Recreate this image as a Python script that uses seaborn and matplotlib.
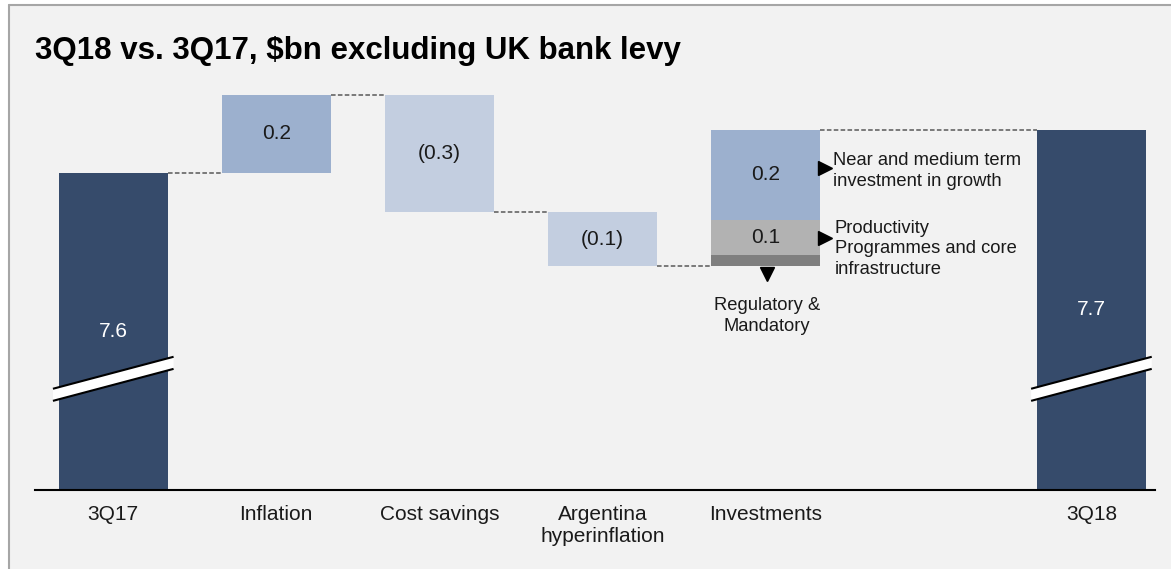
import matplotlib
matplotlib.use("Agg")
import matplotlib.pyplot as plt
import seaborn as sns
import pandas as pd
import numpy as np
from matplotlib.patches import Rectangle, Polygon
from matplotlib.lines import Line2D

# ---------------- data ----------------
categories = ["3Q17", "Inflation", "Cost savings", "Argentina\nhyperinflation",
              "Investments", "", "3Q18"]
start_value = 7.6
end_value = 7.71
step_values = [0.20, -0.30, -0.14]          # Inflation, Cost savings, Argentina
step_labels = ["0.2", "(0.3)", "(0.1)"]
investment_parts = [0.03, 0.09, 0.23]       # Regulatory, Productivity, Growth
investment_labels = ["", "0.1", "0.2"]
investment_notes = ["Regulatory &\nMandatory",
                    "Productivity\nProgrammes and core\ninfrastructure",
                    "Near and medium term\ninvestment in growth"]
total_labels = ["7.6", "7.7"]
title = "3Q18 vs. 3Q17, $bn excluding UK bank levy"

# ---------------- style ----------------
bg = "#F2F2F2"
navy = "#364B6B"
mid_blue = "#9CB0CE"
light_blue = "#C3CEE0"
gray_light = "#B2B2B2"
gray_dark = "#7F7F7F"
step_colors = [mid_blue, light_blue, light_blue]
inv_colors = [gray_dark, gray_light, mid_blue]
bar_w = 0.67
txt = "#1a1a1a"
W, H = 1171, 569

sns.set_theme(style="white")
plt.rcParams["font.family"] = ["Liberation Sans", "DejaVu Sans"]

fig = plt.figure(figsize=(W / 100, H / 100), dpi=100, facecolor="white")

# panel background with left/top frame lines
fx0, fy1 = 9 / W, 1 - 4.5 / H
fig.add_artist(Rectangle((fx0, 0), 1 - fx0, fy1, transform=fig.transFigure,
                         facecolor=bg, edgecolor="none", zorder=-10))
fig.add_artist(Line2D([fx0, fx0], [0, fy1], transform=fig.transFigure,
                      color="#A6A6A6", lw=1.5, zorder=-9))
fig.add_artist(Line2D([fx0, 1], [fy1, fy1], transform=fig.transFigure,
                      color="#A6A6A6", lw=1.5, zorder=-9))

ax = fig.add_axes([35 / W, 79 / H, 1120 / W, 410 / H])
ax.set_facecolor("none")

ymin, ymax = 6.787, 7.838
totals = pd.DataFrame({"cat": ["3Q17", "3Q18"], "value": [start_value, end_value]})
sns.barplot(data=totals, x="cat", y="value", order=categories, color=navy,
            saturation=1, width=bar_w, errorbar=None, ax=ax, zorder=2,
            edgecolor="none", linewidth=0)

pos = {c: i for i, c in enumerate(categories)}

# floating step bars
levels = np.concatenate([[start_value], start_value + np.cumsum(step_values)])
for i, (d, lab, col) in enumerate(zip(step_values, step_labels, step_colors)):
    x = pos[categories[i + 1]]
    bottom = min(levels[i], levels[i + 1])
    ax.bar(x, abs(d), bottom=bottom, width=bar_w, color=col, zorder=2,
           edgecolor="none", linewidth=0)
    ax.text(x, bottom + abs(d) / 2, lab, ha="center", va="center",
            fontsize=15, color=txt, zorder=3)

# stacked investments bar
xi = pos["Investments"]
base = levels[-1]
seg_mids = []
for part, lab, col in zip(investment_parts, investment_labels, inv_colors):
    ax.bar(xi, part, bottom=base, width=bar_w, color=col, zorder=2,
           edgecolor="none", linewidth=0)
    seg_mids.append(base + part / 2)
    if lab:
        ax.text(xi, base + part / 2, lab, ha="center", va="center",
                fontsize=15, color=txt, zorder=3)
    base += part
inv_top = base

# connectors
conn_levels = list(levels) + [inv_top]
for i, lvl in enumerate(conn_levels):
    x0 = i + bar_w / 2
    x1 = (pos["3Q18"] if i == len(conn_levels) - 1 else i + 1) - bar_w / 2
    ax.hlines(lvl, x0, x1, colors="#595959", linestyles=(0, (3, 1.5)), lw=1.1, zorder=1)

# total labels (centre of visible part)
for c, v, lab in zip(["3Q17", "3Q18"], [start_value, end_value], total_labels):
    ax.text(pos[c], (ymin + v) / 2, lab, ha="center", va="center",
            fontsize=15, color="white", zorder=3)

# axis-break marks
yc, rise, th, half = 7.072, 0.041, 0.031, 0.37
for c in ["3Q17", "3Q18"]:
    x = pos[c]
    xs = [x - half, x + half]
    lo = [yc - rise - th / 2, yc + rise - th / 2]
    hi = [yc - rise + th / 2, yc + rise + th / 2]
    ax.add_patch(Polygon([(xs[0], lo[0]), (xs[1], lo[1]), (xs[1], hi[1]), (xs[0], hi[0])],
                         closed=True, facecolor="white", edgecolor="none", zorder=4))
    ax.plot(xs, lo, color="black", lw=1.5, zorder=5, solid_capstyle="butt")
    ax.plot(xs, hi, color="black", lw=1.5, zorder=5, solid_capstyle="butt")

# investment annotations
xr = xi + bar_w / 2
ax.plot([xr + 0.03], [seg_mids[2] + 0.018], marker=">", color="black", ms=10, zorder=5, clip_on=False)
ax.plot([xr + 0.03], [seg_mids[1] - 0.003], marker=">", color="black", ms=10, zorder=5, clip_on=False)
ax.plot([xi + 0.01], [levels[-1] - 0.02], marker="v", color="black", ms=10, zorder=5, clip_on=False)
ax.text(xr + 0.08, seg_mids[2] + 0.01, investment_notes[2], ha="left", va="center",
        fontsize=13.2, linespacing=1.3, color=txt)
ax.text(xr + 0.09, seg_mids[1] - 0.03, investment_notes[1], ha="left", va="center",
        fontsize=13.2, linespacing=1.3, color=txt)
ax.text(xi + 0.01, levels[-1] - 0.128, investment_notes[0], ha="center", va="center",
        fontsize=13.2, linespacing=1.3, color=txt)

ax.set_xlim(-0.48, 6.39)
ax.set_ylim(ymin, ymax)
ax.set_yticks([])
ax.set_xlabel("")
ax.set_ylabel("")
for s in ["left", "right", "top"]:
    ax.spines[s].set_visible(False)
ax.spines["bottom"].set_color("black")
ax.spines["bottom"].set_linewidth(1.5)
ax.tick_params(axis="x", length=0, pad=11, labelsize=15, labelcolor=txt)
for t in ax.get_xticklabels():
    t.set_linespacing(1.15)

fig.text(35 / W, 1 - 51 / H, title, ha="left", va="center",
         fontsize=22.5, fontweight="bold", color="black")

fig.savefig("out.png", dpi=100, facecolor="white")
